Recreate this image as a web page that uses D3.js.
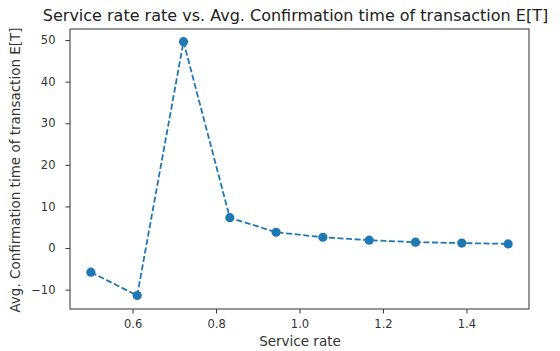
<!DOCTYPE html>
<html>
<head>
<meta charset="utf-8">
<script src="https://cdn.jsdelivr.net/npm/d3@7"></script>
<style>
  body { margin: 0; background: #fff; }
  svg { display: block; font-family: "DejaVu Sans", sans-serif; }
</style>
</head>
<body>
<div id="chart"></div>
<script>
// service rate (x) vs avg confirmation time E[T] (y)
const serviceRate = [0.5, 0.611, 0.722, 0.833, 0.944, 1.056, 1.167, 1.278, 1.389, 1.5];
const confirmTime = [-5.8, -11.4, 49.6, 7.3, 3.8, 2.6, 1.9, 1.4, 1.2, 1.0];
const xTicks = [0.6, 0.8, 1.0, 1.2, 1.4];
const yTicks = [-10, 0, 10, 20, 30, 40, 50];

const W = 560, H = 351;
const margin = { top: 29, right: 31, bottom: 42, left: 70 };
const blue = "#1f77b4";

const svg = d3.select("#chart").append("svg")
    .attr("width", W).attr("height", H);

const x = d3.scaleLinear().domain([0.45, 1.55]).range([margin.left, W - margin.right]);
const y = d3.scaleLinear().domain([-14.65, 52.65]).range([H - margin.bottom, margin.top]);

// axes
const xAxis = svg.append("g")
    .attr("transform", `translate(0,${H - margin.bottom})`)
    .call(d3.axisBottom(x).tickValues(xTicks).tickFormat(d3.format(".1f")).tickSize(4.5).tickPadding(6.5));
const yAxis = svg.append("g")
    .attr("transform", `translate(${margin.left},0)`)
    .call(d3.axisLeft(y).tickValues(yTicks).tickSize(4.5).tickPadding(10).tickFormat(d => d < 0 ? "\u2212" + Math.abs(d) : d));

[xAxis, yAxis].forEach(g => {
    g.select(".domain").remove();
    g.selectAll("line").attr("stroke", "#333");
    g.selectAll("text").attr("font-size", 11.5).attr("fill", "#333")
        .attr("font-family", "DejaVu Sans, sans-serif");
});

// frame
svg.append("rect")
    .attr("x", margin.left).attr("y", margin.top)
    .attr("width", W - margin.left - margin.right)
    .attr("height", H - margin.top - margin.bottom)
    .attr("fill", "none").attr("stroke", "#333").attr("stroke-width", 1);

// line + markers
const line = d3.line().x((d, i) => x(serviceRate[i])).y(d => y(d));
svg.append("path")
    .datum(confirmTime)
    .attr("d", line)
    .attr("fill", "none")
    .attr("stroke", blue)
    .attr("stroke-width", 1.8)
    .attr("stroke-dasharray", "6,2.6");

svg.append("g")
    .selectAll("circle")
    .data(confirmTime)
    .join("circle")
    .attr("cx", (d, i) => x(serviceRate[i]))
    .attr("cy", d => y(d))
    .attr("r", 4.6)
    .attr("fill", blue);

// labels
svg.append("text")
    .attr("x", 295.5).attr("y", 21)
    .attr("text-anchor", "middle").attr("font-size", 16).attr("fill", "#222")
    .text("Service rate rate vs. Avg. Confirmation time of transaction E[T]");

svg.append("text")
    .attr("x", 300).attr("y", 346)
    .attr("text-anchor", "middle").attr("font-size", 13.5).attr("fill", "#333")
    .text("Service rate");

svg.append("text")
    .attr("transform", `translate(20,170) rotate(-90)`)
    .attr("text-anchor", "middle").attr("font-size", 13.5).attr("fill", "#333")
    .text("Avg. Confirmation time of transaction E[T]");
</script>
</body>
</html>
